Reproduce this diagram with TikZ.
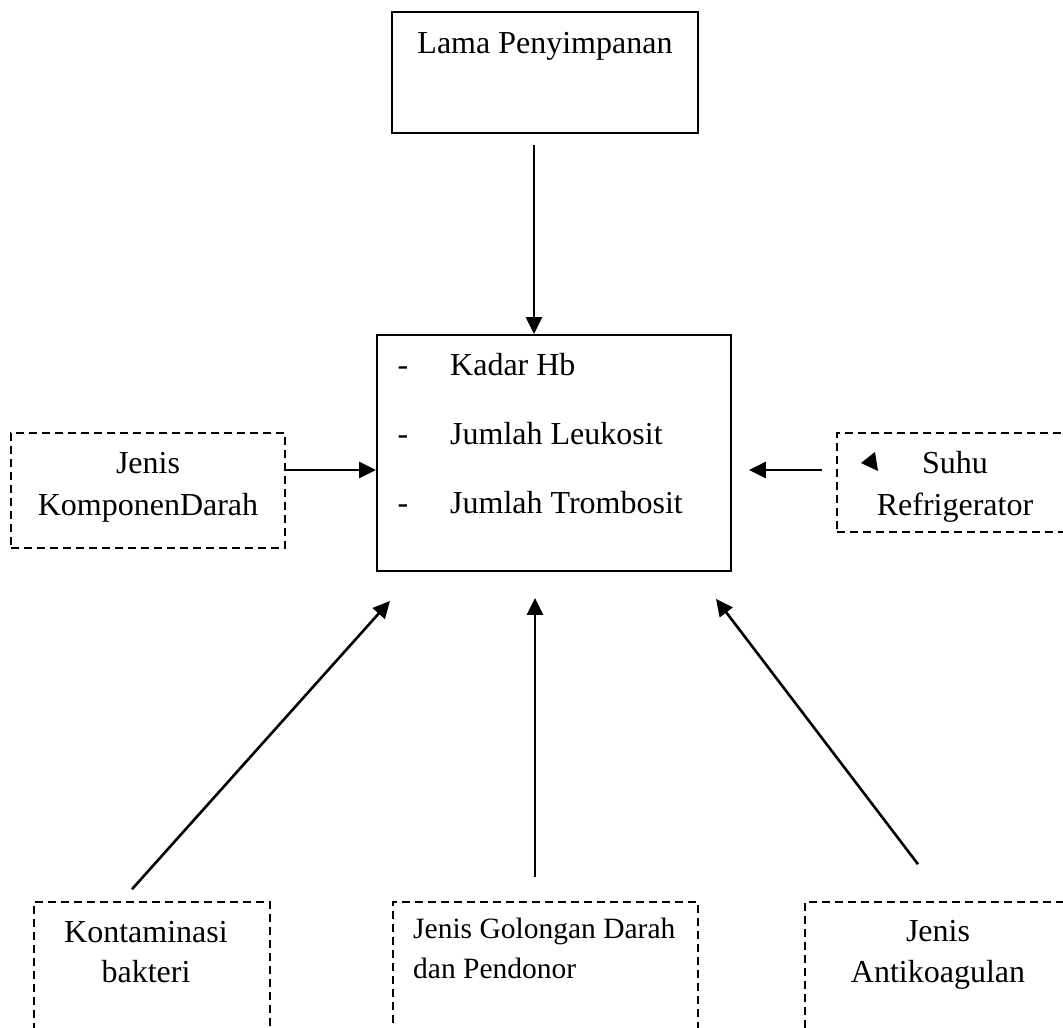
\documentclass[tikz,border=0pt]{standalone}
\usepackage{fontspec}
\setmainfont{Liberation Serif}
\usetikzlibrary{arrows.meta,positioning}
\tikzset{
  flow/.style={-{Triangle[length=17pt,width=16pt]},black,line width=2.6pt},
  box/.style={draw=black,line width=1.8pt,minimum width=#1,inner sep=0pt},
  dashbox/.style={box=#1,line width=1.6pt,dash pattern=on 8pt off 5pt},
  label/.style={font=\fontsize{32}{42}\selectfont,align=center,anchor=base,inner sep=0pt},
  smalllabel/.style={font=\fontsize{29.5}{40}\selectfont,align=left,anchor=base west,inner sep=0pt},
}

\begin{document}
\begin{tikzpicture}[x=1pt,y=-1pt]
  \useasboundingbox (0,0) rectangle (1063,1028);
  \clip (0,0) rectangle (1063,1028);

  % boxes
  \node[box=306pt,minimum height=121pt] (lama) at (545,72.5) {};
  \node[box=354pt,minimum height=236pt] (hasil) at (554,453) {};
  \node[dashbox=274pt,minimum height=115pt] (komponen) at (148,490.5) {};
  \node[dashbox=238pt,minimum height=99pt] (suhu) at (956,482.5) {};
  \node[dashbox=236pt,minimum height=148pt] (bakteri) at (152,976) {};
  \node[dashbox=305pt,minimum height=148pt] (golongan) at (545.5,976) {};
  \node[dashbox=270pt,minimum height=148pt] (antikoag) at (940,976) {};

  % texts (base = last line)
  \node[label] (lamatext) at (545,53) {Lama Penyimpanan};
  \foreach \y/\txt [count=\i] in {375/Kadar Hb,444/Jumlah Leukosit,513/Jumlah Trombosit}{
    \node[label] (dash\i) at (403,\y) {-};
    \node[label,anchor=base west] (item\i) at (450,\y) {\txt};
  }
  \node[label] (komponentext) at (148,515) {Jenis\\KomponenDarah};
  \node[label] (suhutext) at (955,515) {Suhu\\Refrigerator};
  \node[label,font=\fontsize{32}{40}\selectfont] (bakteritext) at (146,982) {Kontaminasi\\bakteri};
  \node[smalllabel] (golongantext) at (413,978) {Jenis Golongan Darah\\dan Pendonor};
  \node[label,font=\fontsize{32}{41}\selectfont] (antikoagtext) at (938,982) {Jenis\\Antikoagulan};

  % stray arrowhead
  \fill (861,463) -- (875,452) -- (878,471) -- cycle;

  % connectors
  \draw[flow] ([xshift=-11pt,yshift=-11pt]lama.south) -- ([xshift=-20pt]hasil.north);
  \draw[flow] ([yshift=20.5pt]komponen.east) -- ([yshift=-17pt]hasil.west);
  \draw[flow] ([xshift=-14pt,yshift=12.5pt]suhu.west) -- ([xshift=17pt,yshift=-17pt]hasil.east);
  \draw[flow] ([xshift=-20pt,yshift=12pt]bakteri.north) -- ([xshift=-164pt,yshift=-29pt]hasil.south);
  \draw[flow] ([xshift=-10.5pt,yshift=24pt]golongan.north) -- ([xshift=-19pt,yshift=-26pt]hasil.south);
  \draw[flow] ([xshift=-22pt,yshift=37pt]antikoag.north) -- ([xshift=162pt,yshift=-27pt]hasil.south);
\end{tikzpicture}
\end{document}
